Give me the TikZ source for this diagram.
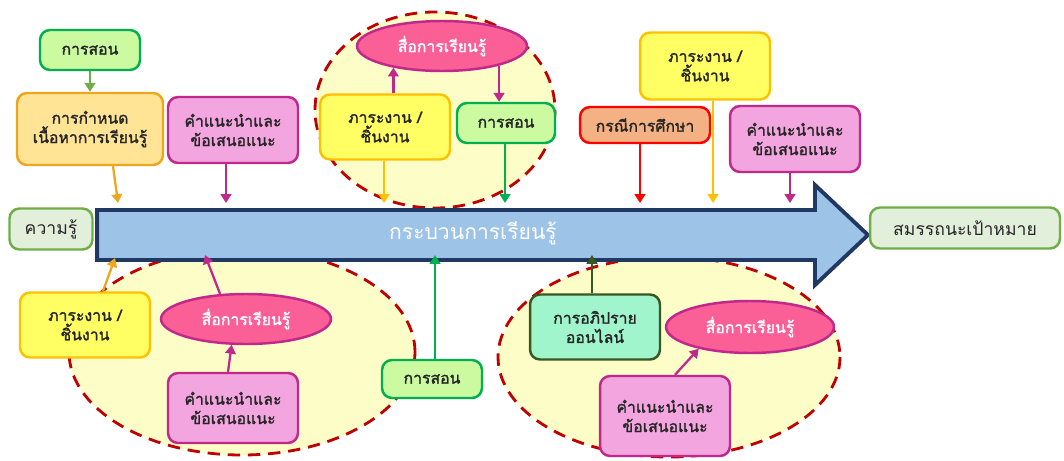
\documentclass[tikz,border=0pt]{standalone}
\usepackage{fontspec}
\newfontfamily\thai[Script=Thai,AutoFakeBold=1.6]{Loma}
\usetikzlibrary{arrows.meta,shapes.geometric}
\definecolor{lpnavy}{RGB}{31,56,100}
\definecolor{lpflow}{RGB}{157,195,230}
\definecolor{lpzone}{RGB}{253,253,200}
\definecolor{lpdash}{RGB}{192,0,0}
\definecolor{lpgreen}{RGB}{0,176,80}
\definecolor{lpgreenfill}{RGB}{204,250,160}
\definecolor{lpolive}{RGB}{112,173,71}
\definecolor{lpsoft}{RGB}{226,239,218}
\definecolor{lporange}{RGB}{240,165,30}
\definecolor{lporangefill}{RGB}{255,228,150}
\definecolor{lpgold}{RGB}{255,192,0}
\definecolor{lpyellow}{RGB}{255,255,100}
\definecolor{lpmagenta}{RGB}{192,40,140}
\definecolor{lppinkfill}{RGB}{242,165,222}
\definecolor{lpmedia}{RGB}{250,95,150}
\definecolor{lpred}{RGB}{255,0,0}
\definecolor{lpsalmon}{RGB}{244,177,131}
\definecolor{lpmint}{RGB}{160,245,205}
\definecolor{lpdark}{RGB}{56,87,35}

\begin{document}
\begin{tikzpicture}[x=.02cm,y=-.02cm,font=\thai\bfseries\small,
    box/.style={draw,rounded corners=.2cm,line width=1.4pt,align=center,
      inner sep=2pt,text=black!85},
    teach/.style={box,fill=lpgreenfill,draw=lpgreen,minimum width=2cm,minimum height=.8cm},
    task/.style={box,fill=lpyellow,draw=lpgold,minimum width=2.6cm,minimum height=1.3cm},
    advice/.style={box,fill=lppinkfill,draw=lpmagenta,minimum width=2.6cm,minimum height=1.32cm},
    media/.style={ellipse,draw=lpmagenta,fill=lpmedia,line width=1.4pt,text=white,
      minimum width=3.4cm,minimum height=1cm},
    ends/.style={box,fill=lpsoft,draw=lpolive,font=\thai,minimum height=.82cm},
    zone/.style={fill=lpzone,draw=lpdash,line width=1.6pt,dash pattern=on 7pt off 4.5pt},
    feed/.style={draw=#1,line width=1.3pt,-{Triangle[width=6pt,length=5pt]}}]
  \useasboundingbox (0,0) rectangle (1064,460);
  \draw[zone] (435,110) ellipse [x radius=120,y radius=98];
  \draw[zone] (242,352) ellipse [x radius=173,y radius=103];
  \draw[zone] (669,357) ellipse [x radius=171,y radius=100];

  \node[minimum width=14.36cm,minimum height=1cm,inner sep=0pt,outer sep=0pt] (flow) at (456,235) {};
  \draw[fill=lpflow,draw=lpnavy,line width=2.2pt] (flow.north west) -- (flow.north east)
    -- (815,185) -- (868,235) -- (815,285) -- (flow.south east) -- (flow.south west) -- cycle;
  \node[font=\thai\large,text=white] (flowlabel) at (473,233) {กระบวนการเรียนรู้};

  \node[ends,minimum width=1.66cm] (know) at (51,229) {ความรู้};
  \node[ends,minimum width=3.8cm] (goal) at (965,228) {สมรรถนะเป้าหมาย};

  \node[teach] (teach1) at (90,50) {การสอน};
  \node[box,fill=lporangefill,draw=lporange,minimum width=2.92cm,minimum height=1.44cm]
    (plan) at (90,129) {การกำหนด\\เนื้อหาการเรียนรู้};
  \node[advice] (advice1) at (233,130) {คำแนะนำและ\\ข้อเสนอแนะ};

  \node[media] (media1) at (442,46) {สื่อการเรียนรู้};
  \node[task] (task1) at (385,127) {ภาระงาน /\\ชิ้นงาน};
  \node[teach,minimum width=1.96cm] (teach2) at (506,123) {การสอน};

  \node[task,minimum height=1.34cm] (task2) at (705,66) {ภาระงาน /\\ชิ้นงาน};
  \node[box,fill=lpsalmon,draw=lpred,minimum width=2.6cm,minimum height=.72cm]
    (case) at (645,125) {กรณีการศึกษา};
  \node[advice] (advice2) at (795,139) {คำแนะนำและ\\ข้อเสนอแนะ};

  \node[task] (task3) at (85,325) {ภาระงาน /\\ชิ้นงาน};
  \node[media] (media2) at (246,319) {สื่อการเรียนรู้};
  \node[advice,minimum height=1.4cm] (advice3) at (233,408) {คำแนะนำและ\\ข้อเสนอแนะ};
  \node[teach,minimum height=.76cm] (teach3) at (432,379) {การสอน};

  \node[box,fill=lpmint,draw=lpdark,minimum width=2.6cm,minimum height=1.3cm]
    (discuss) at (595,327) {การอภิปราย\\ออนไลน์};
  \node[media,minimum width=3.36cm,minimum height=1.04cm] (media3) at (750,327) {สื่อการเรียนรู้};
  \node[advice,minimum height=1.6cm] (advice4) at (665,416) {คำแนะนำและ\\ข้อเสนอแนะ};

  \coordinate (in-plan) at (118,203);
  \coordinate (out-task3) at (115,258);
  \coordinate (out-media2) at (205,255);
  \foreach \src/\x/\col in {advice1/226/lpmagenta,task1/384/lpgold,teach2/505/lpgreen,
      case/640/lpred,task2/713/lpgold,advice2/790/lpmagenta}{
    \coordinate (in-\src) at (\x,203);
    \draw[feed=\col] (\src.south -| in-\src) -- (in-\src);
  }
  \foreach \src/\x/\col in {teach3/435/lpgreen,discuss/592/lpdark}{
    \coordinate (out-\src) at (\x,255);
    \draw[feed=\col] (\src.north -| out-\src) -- (out-\src);
  }
  \draw[feed=lpolive] (teach1) -- (plan);
  \draw[feed=lporange] ([xshift=.46cm]plan.south) -- (in-plan);
  \draw[feed=lpmagenta] (task1.north -| media1.204) -- (media1.204);
  \draw[feed=lpmagenta] (media1.341) -- (media1.341 |- teach2.north);
  \draw[feed=lporange] ([xshift=.36cm]task3.north) -- (out-task3);
  \draw[feed=lpmagenta] (media2.136) -- (out-media2);
  \draw[feed=lpmagenta] ([xshift=-.1cm]advice3.north) -- (media2.241);
  \draw[feed=lpmagenta] ([xshift=.2cm]advice4.north) -- (media3.203);
\end{tikzpicture}
\end{document}
